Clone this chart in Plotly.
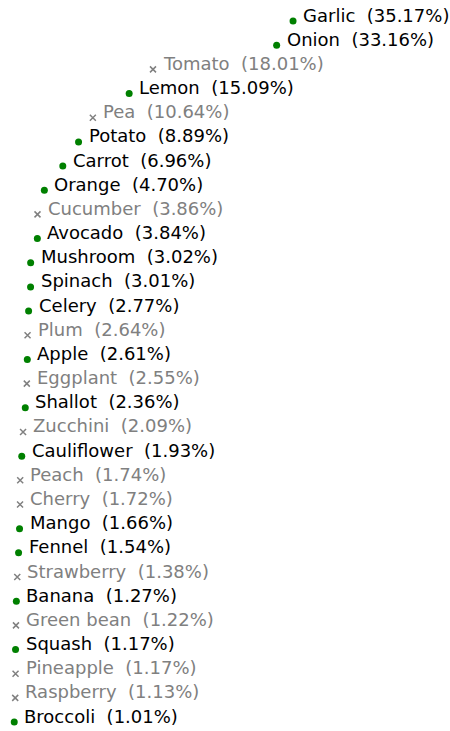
import plotly.graph_objects as go

names = ["Garlic", "Onion", "Tomato", "Lemon", "Pea", "Potato", "Carrot", "Orange",
         "Cucumber", "Avocado", "Mushroom", "Spinach", "Celery", "Plum", "Apple",
         "Eggplant", "Shallot", "Zucchini", "Cauliflower", "Peach", "Cherry", "Mango",
         "Fennel", "Strawberry", "Banana", "Green bean", "Squash", "Pineapple",
         "Raspberry", "Broccoli"]
values = [35.17, 33.16, 18.01, 15.09, 10.64, 8.89, 6.96, 4.70, 3.86, 3.84, 3.02, 3.01,
          2.77, 2.64, 2.61, 2.55, 2.36, 2.09, 1.93, 1.74, 1.72, 1.66, 1.54, 1.38, 1.27,
          1.22, 1.17, 1.17, 1.13, 1.01]
kinds = ["dot", "dot", "x", "dot", "x", "dot", "dot", "dot", "x", "dot", "dot", "dot",
         "dot", "x", "dot", "x", "dot", "x", "dot", "x", "x", "dot", "dot", "x", "dot",
         "x", "dot", "x", "x", "dot"]

ranks = list(range(len(names)))
FONT = "DejaVu Sans"

fig = go.Figure()
for kind, sym, col in [("dot", "circle", "green"), ("x", "x-thin", "gray")]:
    idx = [i for i, k in enumerate(kinds) if k == kind]
    fig.add_trace(go.Scatter(
        x=[values[i] for i in idx], y=[ranks[i] for i in idx], mode="markers",
        marker=dict(symbol=sym, size=7 if kind == "dot" else 6, color=col,
                    line=dict(color=col, width=1.5 if kind == "x" else 0)),
        hoverinfo="skip", showlegend=False))

for n, v, k, r in zip(names, values, kinds, ranks):
    fig.add_annotation(x=v, y=r, text=f"{n}  ({v:.2f}%)", showarrow=False,
                       xanchor="left", yanchor="middle", xshift=8, yshift=6,
                       font=dict(family=FONT, size=18,
                                 color="black" if k == "dot" else "gray"))

fig.update_layout(
    width=450, height=731, margin=dict(l=0, r=0, t=0, b=0),
    paper_bgcolor="white", plot_bgcolor="white",
    xaxis=dict(range=[-0.735, 54.4], visible=False),
    yaxis=dict(range=[29.37, -0.869], visible=False),
)
fig.write_html("out.html", config={"displayModeBar": False},
               post_script="document.body.style.margin='0';document.body.style.overflow='hidden';")
